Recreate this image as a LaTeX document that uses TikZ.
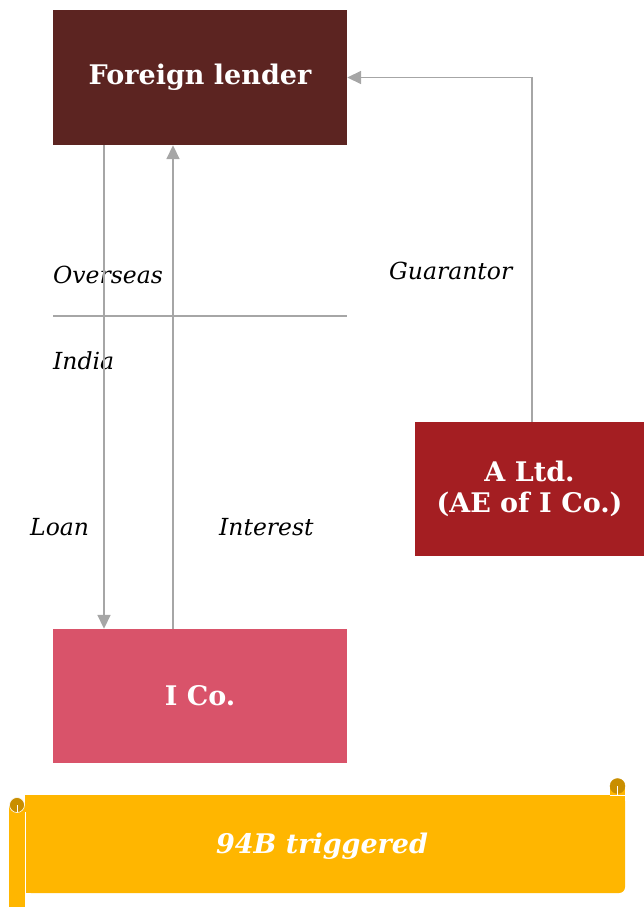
\documentclass[tikz,border=0pt]{standalone}
\usepackage{fontspec}
\setmainfont{DejaVu Serif}
\usepackage{tikz}
\usetikzlibrary{arrows.meta,positioning,calc}

\definecolor{lendercol}{RGB}{92,36,33}
\definecolor{altdcol}{RGB}{164,30,34}
\definecolor{icocol}{RGB}{217,83,106}
\definecolor{bannercol}{RGB}{255,182,0}
\definecolor{curlcol}{RGB}{201,142,0}
\definecolor{linecol}{RGB}{166,166,166}

\begin{document}
\begin{tikzpicture}[
    x=1pt, y=-1pt,
    font=\fontsize{22}{26}\selectfont,
    >={Triangle[width=13pt,length=14pt]},
    box/.style={rectangle, minimum width=294pt, minimum height=135pt, inner sep=0pt,
        text=white, align=center, font=\fontsize{27}{31}\selectfont\bfseries},
    conn/.style={draw=linecol, line width=1.8pt, ->, color=linecol},
    lbl/.style={font=\fontsize{23.5}{28}\selectfont\itshape, inner sep=0pt, anchor=base west}
]
    \useasboundingbox (0,0) rectangle (644,907);

    \node[box, fill=lendercol] (lender) at (200,77.5) {Foreign lender};
    \node[box, fill=altdcol, minimum width=229pt, minimum height=134pt] (altd) at (529.5,489) {A Ltd.\\(AE of I Co.)};
    \node[box, fill=icocol, minimum height=134pt] (ico) at (200,696) {I Co.};

    % overseas / india split
    \draw[linecol, line width=1.8pt] (53,316) -- (347,316);
    \node[lbl] (overseas) at (53,283) {Overseas};
    \node[lbl] (india) at (53,369) {India};

    \draw[conn] ([xshift=-96pt]lender.south) -- ([xshift=-96pt]ico.north);
    \draw[conn] ([xshift=-27pt]ico.north) -- ([xshift=-27pt]lender.south);
    \draw[conn] ([xshift=2.5pt]altd.north) |- (lender.east);

    \node[lbl] (loan) at (30,535) {Loan};
    \node[lbl] (interest) at (219,535) {Interest};
    \node[lbl] (guar) at (389,279) {Guarantor};

    % banner
    \fill[bannercol, rounded corners=6pt] (25,795) rectangle (625,893);
    \fill[bannercol] (25,795) rectangle (100,893);
    \fill[bannercol] (560,795) rectangle (625,840);
    \fill[bannercol] (9,805) rectangle (25,907);
    \draw[white, line width=0.6pt] (25,812) -- (25,893);
    \filldraw[fill=curlcol, draw=white, line width=0.6pt] (17,805) circle (7.5);
    \draw[white, line width=0.6pt] (17,805) -- (17,812);
    \fill[bannercol] (610,787) rectangle (625,797);
    \draw[white, line width=0.6pt] (610,795) -- (625,795);
    \filldraw[fill=curlcol, draw=curlcol] (617.5,786) circle (7.5);
    \draw[white, line width=0.6pt] (617.5,786) -- (617.5,795);
    \node[font=\fontsize{27}{31}\selectfont\bfseries\itshape, text=white] (trig) at (322,846) {94B triggered};
\end{tikzpicture}
\end{document}
